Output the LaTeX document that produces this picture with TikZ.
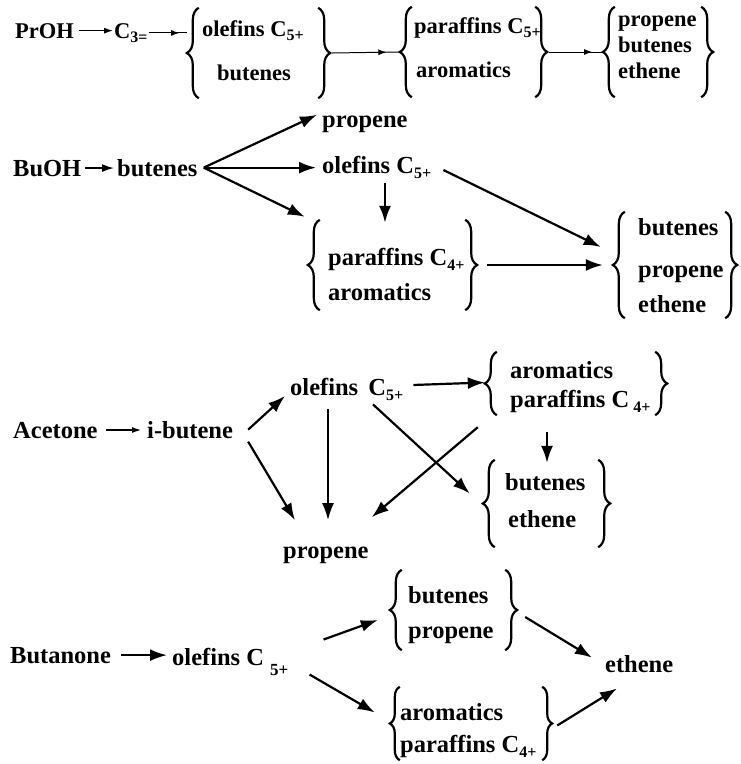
\documentclass[tikz,border=0pt]{standalone}
\usepackage{fontspec}
\setmainfont{Liberation Serif}
\usetikzlibrary{arrows.meta,decorations.pathreplacing,decorations.markings,fit}
\newcommand\sbx[1]{\raisebox{-0.45ex}{\fontsize{16}{16}\selectfont #1}}
\newcommand\sbxlow[1]{\raisebox{-0.9ex}{\fontsize{17}{17}\selectfont #1}}
\newcommand\grpbraces[2]{%
  \draw[brc=#2] ([xshift=#2]#1.south west) -- ([xshift=#2]#1.north west);
  \draw[brc=#2] ([xshift=-#2]#1.north east) -- ([xshift=-#2]#1.south east);}
\begin{document}
\begin{tikzpicture}[x=1pt,y=-1pt,
  every node/.style={font=\fontsize{24.5}{30}\selectfont\bfseries, inner sep=0pt},
  small/.style={font=\fontsize{22.5}{28}\selectfont\bfseries},
  lbl/.style={anchor=base west},
  grp/.style={inner sep=0pt, draw=none},
  arr/.style={-{Latex[length=17pt,width=12pt]}, line width=2.2pt},
  marr/.style={-{Latex[length=12pt,width=8pt]}, line width=1.5pt},
  sarr/.style={-{Latex[length=9pt,width=6pt]}, line width=1.2pt},
  midarr/.style={line width=1pt, postaction={decorate},
    decoration={markings, mark=at position 0.8 with {\arrow{Latex[length=8pt,width=6pt]}}}},
  brc/.style={decorate, decoration={brace, amplitude=#1}, line width=2.2pt},
  brc/.default=12pt]
\useasboundingbox (0,0) rectangle (741,764);

% ---------- Row 1: PrOH ----------
\node[lbl,small] (proh) at (15,38) {PrOH};
\node[lbl,small] (c3) at (114,38) {C\sbx{3=}};
\node[grp, fit={(187,8) (330,98)}] (G1) {};
\node[lbl,small] (g1a) at (202,36) {olefins C\sbx{5+}};
\node[lbl,small] (g1b) at (217,80) {butenes};
\node[grp, fit={(400,7) (547,97)}] (G2) {};
\node[lbl,small] (g2a) at (414,33) {paraffins C\sbx{5+}};
\node[lbl,small] (g2b) at (416,77) {aromatics};
\node[grp, fit={(603,7) (713,97)}] (G3) {};
\node[lbl,small] (g3a) at (618,26) {propene};
\node[lbl,small] (g3b) at (618,52) {butenes};
\node[lbl,small] (g3c) at (618,78) {ethene};
\grpbraces{G1}{12pt}
\grpbraces{G2}{12pt}
\grpbraces{G3}{12pt}
\draw[sarr] ([xshift=5pt]proh.east) -- ([xshift=-1pt]proh.east -| c3.west);
\draw[midarr] ([xshift=1pt]c3.east) -- (c3.east -| G1.west);
\draw[midarr] ([xshift=2pt]G1.east) -- (G2.west);
\draw[midarr] ([xshift=2pt]G2.east) -- (G3.west);

% ---------- Row 2: BuOH ----------
\node[lbl] (buoh) at (13,176) {BuOH};
\node[lbl] (but2) at (117,176) {butenes};
\node[lbl] (prop2) at (322,127) {propene};
\node[lbl] (ole2) at (322,173) {olefins C\sbx{5+}};
\node[grp, fit={(308,220) (477,310)}] (G4) {};
\node[lbl] (g4a) at (328,265) {paraffins C\sbx{4+}};
\node[lbl] (g4b) at (328,300) {aromatics};
\node[grp, fit={(613,212) (737,318)}] (G5) {};
\node[lbl] (g5a) at (638,235) {butenes};
\node[lbl] (g5b) at (638,277) {propene};
\node[lbl] (g5c) at (638,312) {ethene};
\grpbraces{G4}{12pt}
\grpbraces{G5}{12pt}
\draw[marr] ([xshift=4pt]buoh.east) -- ([xshift=-3pt]buoh.east -| but2.west);
\draw[arr] ([xshift=6pt]but2.east) -- ([shift={(-5pt,9pt)}]prop2.west);
\draw[arr] ([xshift=6pt]but2.east) -- ([xshift=-6pt]but2.east -| ole2.west);
\draw[arr] ([xshift=6pt]but2.east) -- ([shift={(-3pt,3pt)}]G4.north west);
\draw[arr] ([shift={(63pt,-5pt)}]ole2.south west) -- ([shift={(63pt,-3pt)}]ole2.south west |- G4.north);
\draw[arr] ([shift={(12pt,-3pt)}]ole2.east) -- ([shift={(-12pt,18pt)}]G5.west);
\draw[arr] ([xshift=10pt]G4.east) -- ([xshift=-10pt]G5.west);

% ---------- Row 3: Acetone ----------
\node[lbl] (acet) at (13,438) {Acetone};
\node[lbl] (ibut) at (147,438) {i-butene};
\node[lbl] (ole3) at (290,395) {olefins\, C\sbx{5+}};
\node[lbl] (prop3) at (283,558) {propene};
\node[grp, fit={(485,352) (667,415)}] (G6) {};
\node[lbl] (g6a) at (510,378) {aromatics};
\node[lbl] (g6b) at (510,407) {paraffins C\,\sbx{4+}};
\node[grp, fit={(483,460) (610,547)}] (G7) {};
\node[lbl] (g7a) at (505,490) {butenes};
\node[lbl] (g7b) at (508,527) {ethene};
\grpbraces{G6}{12pt}
\grpbraces{G7}{12pt}
\draw[sarr] ([xshift=8pt]acet.east) -- ([xshift=-6pt]acet.east -| ibut.west);
\draw[arr] ([shift={(15pt,0pt)}]ibut.east) -- ([shift={(-5pt,-7pt)}]ole3.west);
\draw[arr] ([shift={(15pt,-12pt)}]ibut.east) -- ([shift={(12pt,26pt)}]prop3.north west);
\draw[arr] ([shift={(38pt,-9pt)}]ole3.south west) -- ([shift={(45pt,26pt)}]prop3.north west);
\draw[arr] ([shift={(10pt,4pt)}]ole3.east) -- ([yshift=1pt]G6.west);
\draw[arr] ([shift={(83pt,-4pt)}]ole3.south west) -- ([shift={(-13pt,10pt)}]G7.west);
\draw[arr] ([shift={(-7pt,-12pt)}]G6.south west) -- ([shift={(3pt,29pt)}]prop3.north east);
\draw[arr] ([shift={(-29pt,-17pt)}]G6.south) -- ([shift={(-29pt,-3pt)}]G6.south |- G7.north);

% ---------- Row 4: Butanone ----------
\node[lbl] (buta) at (10,663) {Butanone};
\node[lbl] (ole4) at (172,665) {olefins C \sbxlow{5+}};
\node[grp, fit={(390,570) (517,650)}] (G8) {};
\node[lbl] (g8a) at (408,603) {butenes};
\node[lbl] (g8b) at (408,638) {propene};
\node[lbl] (eth4) at (605,672) {ethene};
\node[grp, fit={(390,687) (552,760)}] (G9) {};
\node[lbl] (g9a) at (400,720) {aromatics};
\node[lbl] (g9b) at (400,752) {paraffins C\sbx{4+}};
\grpbraces{G8}{12pt}
\grpbraces{G9}{10pt}
\draw[arr] ([xshift=10pt]buta.east) -- ([xshift=-5pt]buta.east -| ole4.west);
\draw[arr] ([shift={(35pt,22pt)}]ole4.east) -- ([shift={(-12pt,-10pt)}]G8.west);
\draw[arr] ([shift={(21pt,-13pt)}]ole4.east) -- ([shift={(-15pt,11pt)}]G9.west);
\draw[arr] ([shift={(8pt,-7pt)}]G8.east) -- ([shift={(-13pt,6pt)}]eth4.west);
\draw[arr] ([shift={(5pt,-2pt)}]G9.east) -- ([shift={(12pt,-16pt)}]eth4.south west);
\end{tikzpicture}
\end{document}
